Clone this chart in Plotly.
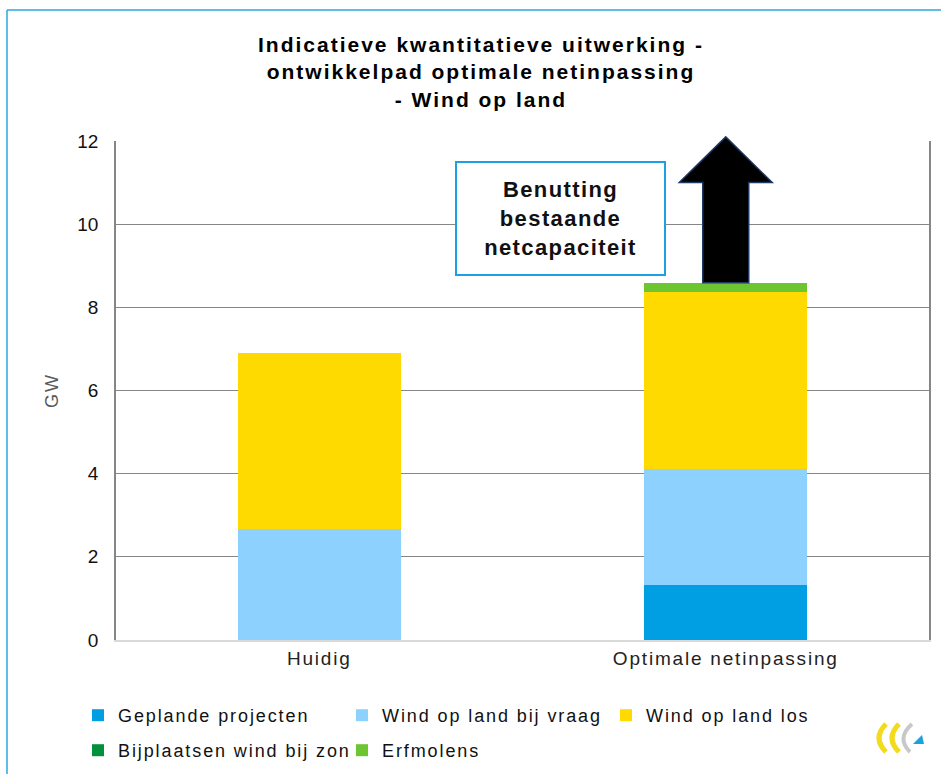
import plotly.graph_objects as go

categories = ["Huidig", "Optimale netinpassing"]
series_names = ["Geplande projecten", "Wind op land bij vraag", "Wind op land los",
                "Bijplaatsen wind bij zon", "Erfmolens"]
geplande = [0.0, 1.32]
bij_vraag = [2.67, 2.79]
los = [4.23, 4.25]
bij_zon = [0.0, 0.0]
erfmolens = [0.0, 0.23]
y_ticks = [0, 2, 4, 6, 8, 10, 12]
colors = ["#009FE3", "#8DD2FF", "#FFDA00", "#00913A", "#6CC531"]
box_text = ["Benutting", "bestaande", "netcapaciteit"]
title_lines = ["Indicatieve kwantitatieve uitwerking -",
               "ontwikkelpad optimale netinpassing", "- Wind op land"]

W, H = 941, 774
L, R, T, B = 116, 12, 141, 134
PW, PH = W - L - R, H - T - B
YMAX = 12


def px2x(px):
    return (px - L) / PW


def px2y(py):
    return (H - B - py) / PH


def sp(txt, ls):
    return f"<span style='letter-spacing:{ls}px'>{txt}</span>"


fig = go.Figure()
legend_of = ["legend", "legend", "legend", "legend2", "legend2"]
for name, vals, col, lg in zip(series_names, [geplande, bij_vraag, los, bij_zon, erfmolens],
                               colors, legend_of):
    fig.add_trace(go.Bar(x=categories, y=vals, name=sp(name, 1.9), marker_color=col,
                         marker_line_width=0, legend=lg))

leg_common = dict(orientation="h", xanchor="left", yanchor="top", xref="container",
                  yref="container",
                  font=dict(size=18, color="#111111"), entrywidth=219, itemwidth=30,
                  traceorder="normal", bgcolor="rgba(0,0,0,0)")
fig.update_layout(
    width=W, height=H,
    barmode="stack", bargap=0.6,
    margin=dict(l=L, r=R, t=T, b=B, autoexpand=False),
    paper_bgcolor="white", plot_bgcolor="white",
    font=dict(family="Liberation Sans, Arial, sans-serif", color="#222222"),
    showlegend=True,
    legend=dict(x=78 / W, y=1 - 697 / H, **leg_common),
    legend2=dict(x=78 / W, y=1 - 732 / H, **leg_common),
)
fig.update_xaxes(showline=True, linecolor="#D9D9D9", linewidth=2, showgrid=False,
                 ticks="", tickfont=dict(size=19, color="#222222"),
                 tickvals=categories, ticktext=[sp(c, 1.8) for c in categories])
fig.update_yaxes(range=[0, YMAX], tickvals=y_ticks, showgrid=True, gridcolor="#868686",
                 gridwidth=1, showline=True, linecolor="#868686", linewidth=1.5, mirror=True,
                 zeroline=False, ticks="", ticklabelstandoff=12,
                 tickfont=dict(size=19, color="#111111"),
                 title=dict(text=sp("GW", 2), font=dict(size=18, color="#595959"), standoff=14))

# Title
fig.add_annotation(text="<br>".join(f"<b>{sp(t, 2.0)}</b>" for t in title_lines),
                   xref="paper", yref="paper", x=px2x(481), y=px2y(72),
                   xanchor="center", yanchor="middle", showarrow=False,
                   font=dict(size=21, color="#000000"))

# Arrow above the Optimale stack
top_val = geplande[1] + bij_vraag[1] + los[1] + bij_zon[1] + erfmolens[1]
xc = (1 + 0.5) / len(categories)
shaft, head = 23 / PW, 46.5 / PW
y0 = top_val / YMAX
yh = 11.0 / YMAX
yt = 12.1 / YMAX
path = (f"M {xc-shaft},{y0} L {xc-shaft},{yh} L {xc-head},{yh} L {xc},{yt} "
        f"L {xc+head},{yh} L {xc+shaft},{yh} L {xc+shaft},{y0} Z")
fig.add_shape(type="path", xref="paper", yref="paper", path=path,
              fillcolor="#000000", line=dict(color="#1F3864", width=1.5))

# Text box
fig.add_annotation(text="<br>".join(f"<b>{sp(t, 1.4)}</b>" for t in box_text),
                   xref="paper", yref="paper", x=px2x(560.5), y=px2y(218.5),
                   xanchor="center", yanchor="middle", showarrow=False,
                   width=205, height=109, bgcolor="white", bordercolor="#1BA1E2",
                   borderwidth=2, borderpad=1, font=dict(size=22, color="#111111"))

# Outer frame (left and top edge of the slide box)
fig.add_shape(type="line", xref="paper", yref="paper", x0=px2x(7), x1=px2x(7),
              y0=px2y(10), y1=px2y(H + 5), line=dict(color="#29A9E1", width=1.5))
fig.add_shape(type="line", xref="paper", yref="paper", x0=px2x(7), x1=px2x(W + 5),
              y0=px2y(10), y1=px2y(10), line=dict(color="#29A9E1", width=1.5))


# Small logo
def pth(pts, close=False):
    s = "M " + " L ".join(f"{px2x(a)},{px2y(b)}" for a, b in pts)
    return s + (" Z" if close else "")


def curve(x0, y0, cx, cy, x1, y1):
    return f"M {px2x(x0)},{px2y(y0)} Q {px2x(cx)},{px2y(cy)} {px2x(x1)},{px2y(y1)}"


fig.add_shape(type="path", xref="paper", yref="paper", path=curve(886, 724, 872, 738, 886, 752),
              line=dict(color="#F3DA1A", width=5))
fig.add_shape(type="path", xref="paper", yref="paper", path=curve(899, 724, 885, 738, 899, 752),
              line=dict(color="#F3DA1A", width=5))
fig.add_shape(type="path", xref="paper", yref="paper", path=curve(912, 724, 896, 738, 910, 752),
              line=dict(color="#C8C8C8", width=4))
fig.add_shape(type="path", xref="paper", yref="paper",
              path=pth([(913, 744), (924, 744), (922, 735)], close=True),
              fillcolor="#1BA1E2", line=dict(width=0))

fig.write_html("out.html", config={"displayModeBar": False},
               post_script="document.body.style.margin='0';")
